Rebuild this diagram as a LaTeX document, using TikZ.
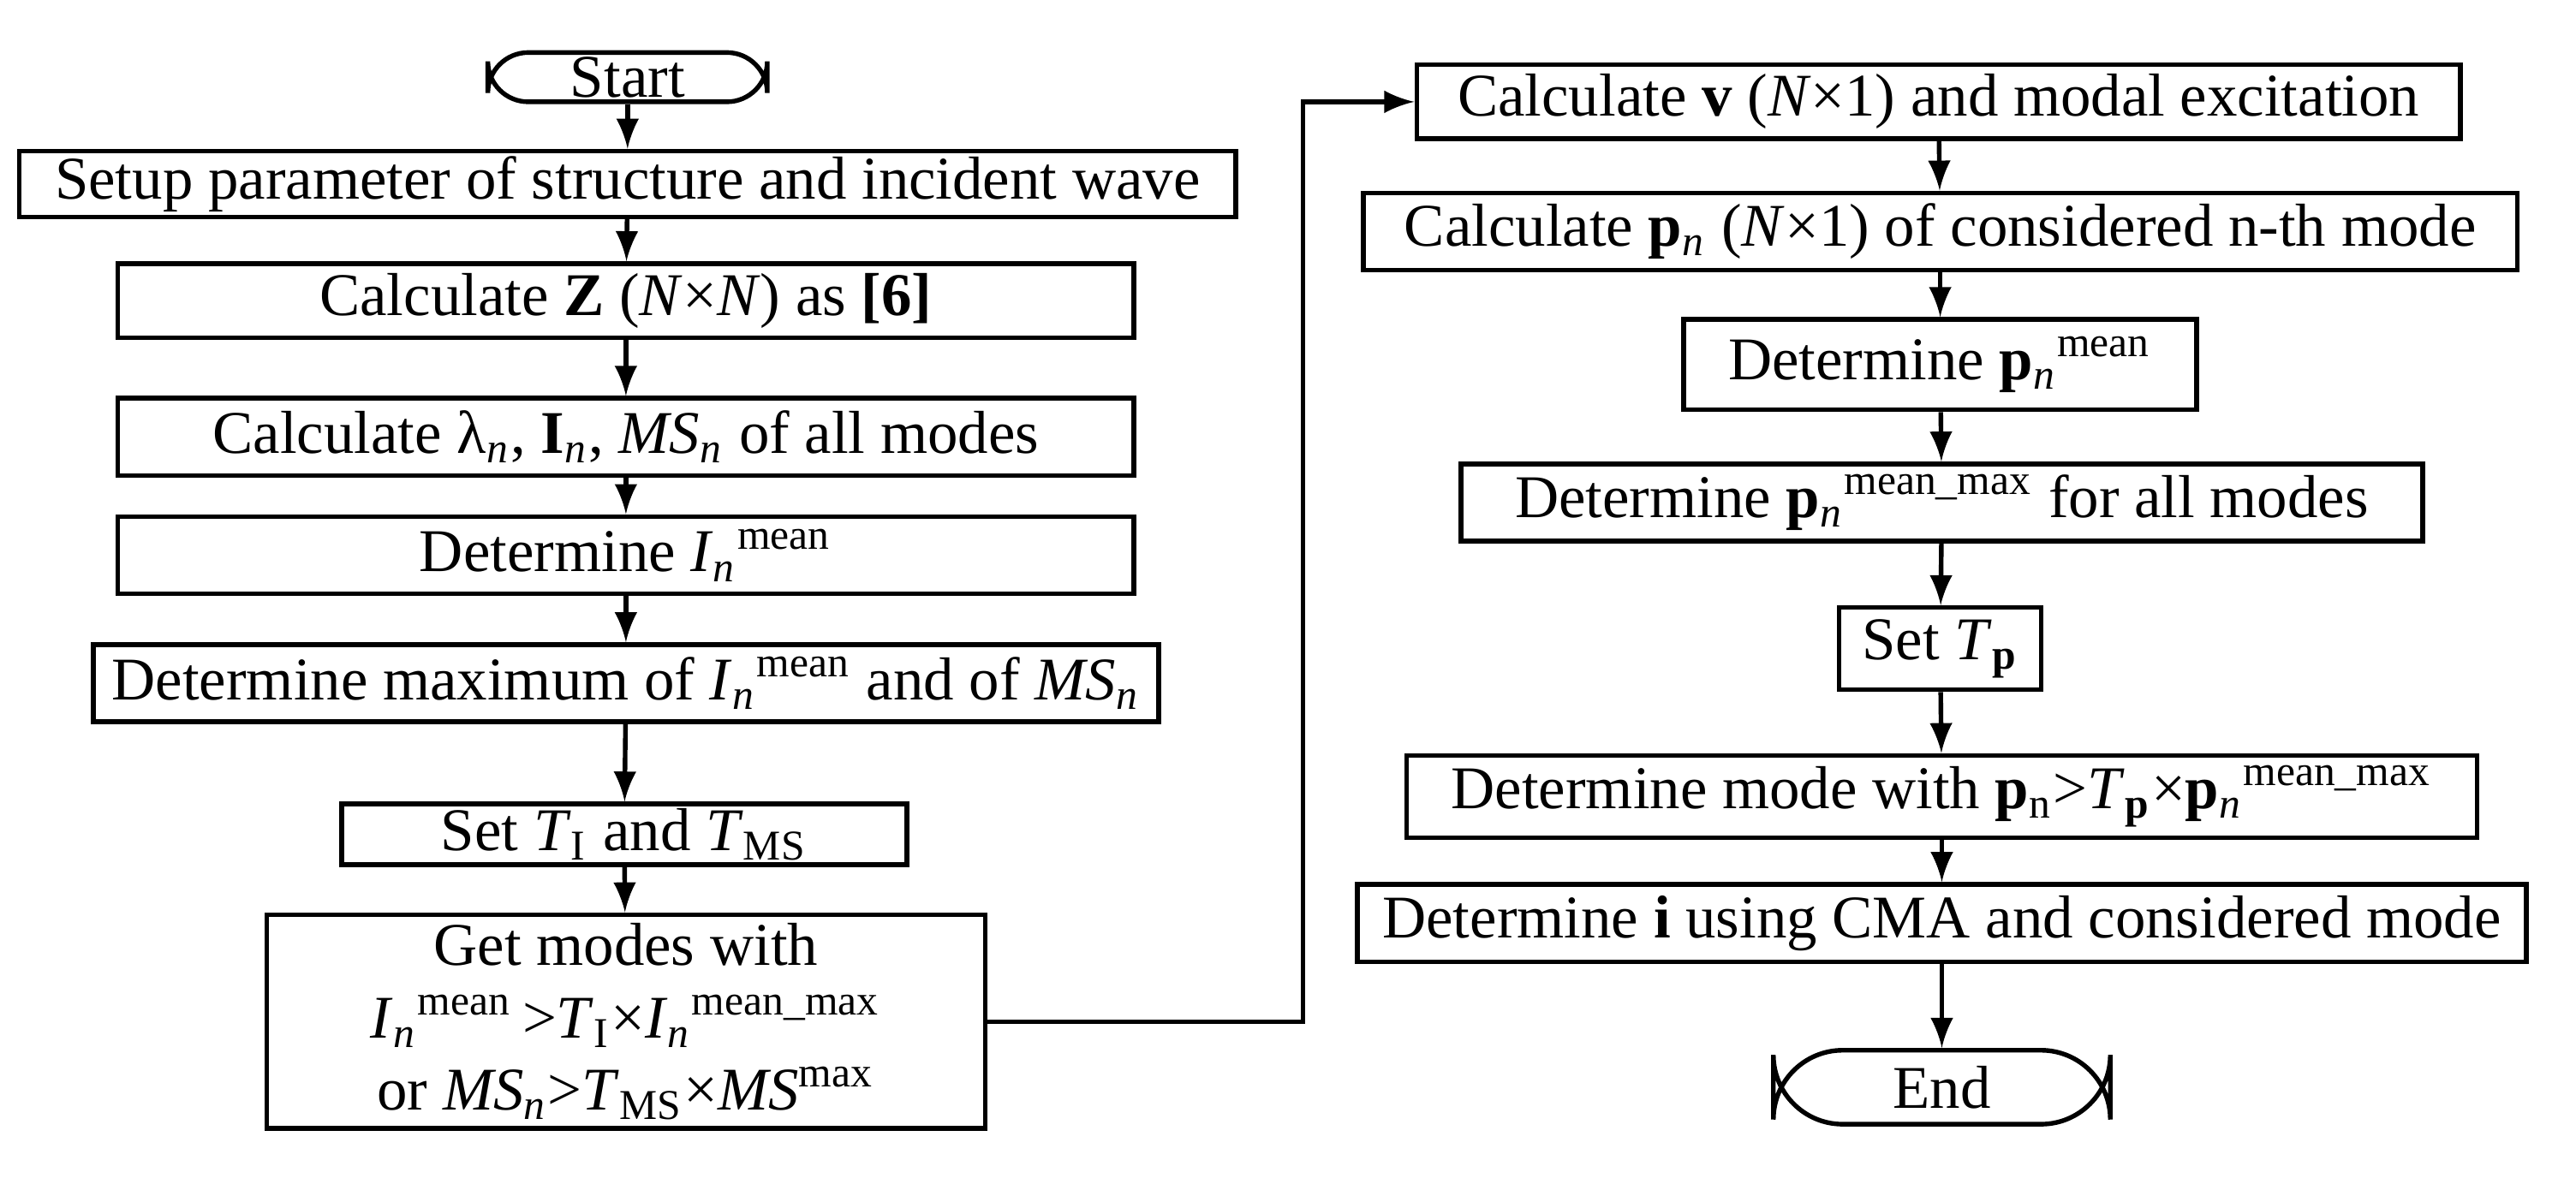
\documentclass[tikz,border=0pt]{standalone}
\usepackage{fontspec}
\setmainfont{Liberation Serif}
\usetikzlibrary{positioning,calc}
\newcommand{\sps}[2]{#1\textsuperscript{#2}}
\newcommand{\pn}{\textbf{p}\textsubscript{\textit{n}}}
\newcommand{\In}{\textit{I}\textsubscript{\textit{n}}}

\begin{document}
\begin{tikzpicture}[x=0.01cm,y=-0.01cm,
				every node/.style={font=\fontsize{10.5}{12.5}\selectfont},
				block/.style={draw,rectangle,line width=0.8pt,inner sep=0pt,align=center},
				term/.style={draw,rounded corners=7pt,line width=0.8pt,inner sep=0pt},
				flow/.style={-latex,line width=0.8pt}]
				\useasboundingbox (0,0) rectangle (1568,728);
				% left column
				\node (START) [term,minimum width=1.70cm,minimum height=0.30cm] at (382,47) {Start};
				\node (SETUP) [block,minimum width=7.40cm,minimum height=0.40cm] at (382,112) {Setup parameter of structure and incident wave};
				\node (CALCZ) [block,minimum width=6.18cm,minimum height=0.45cm] at (381,183) {Calculate \textbf{Z} (\textit{N}×\textit{N}) as \textbf{[6]}};
				\node (CALCL) [block,minimum width=6.18cm,minimum height=0.47cm] at (381,266) {Calculate λ\textsubscript{\textit{n}}, \textbf{I}\textsubscript{\textit{n}}, \textit{MS}\textsubscript{\textit{n}} of all modes};
				\node (DETI)  [block,minimum width=6.18cm,minimum height=0.47cm] at (381,338) {Determine \sps{\In}{mean}};
				\node (DETM)  [block,minimum width=6.48cm,minimum height=0.47cm] at (381,416) {Determine maximum of \sps{\In}{mean} and of \textit{MS}\textsubscript{\textit{n}}};
				\node (SETT)  [block,minimum width=3.44cm,minimum height=0.37cm] at (380,508) {Set \textit{T}\textsubscript{I} and \textit{T}\textsubscript{MS}};
				\node (GET)   [block,minimum width=4.37cm,minimum height=1.30cm] at (381,622) {Get modes with\\\sps{\In}{mean}\,>\textit{T}\textsubscript{I}×\sps{\In}{mean\_max}\\or \textit{MS}\textsubscript{\textit{n}}>\textit{T}\textsubscript{MS}×\sps{\textit{MS}}{max}};
				% right column
				\node (CALCV) [block,minimum width=6.35cm,minimum height=0.45cm] at (1180,62) {Calculate \textbf{v} (\textit{N}×1) and modal excitation};
				\node (CALCP) [block,minimum width=7.02cm,minimum height=0.47cm] at (1181,141) {Calculate \pn{} (\textit{N}×1) of considered n-th mode};
				\node (DETP)  [block,minimum width=3.12cm,minimum height=0.55cm] at (1181,222) {Determine \sps{\pn}{mean}};
				\node (DETPM) [block,minimum width=5.85cm,minimum height=0.47cm] at (1182,306) {Determine \sps{\pn}{mean\_max} for all modes};
				\node (SETP)  [block,minimum width=1.23cm,minimum height=0.50cm] at (1181,395) {Set \textit{T}\textsubscript{\textbf{p}}};
				\node (DETMD) [block,minimum width=6.51cm,minimum height=0.50cm] at (1182,485) {Determine mode with \textbf{p}\textsubscript{n}>\textit{T}\textsubscript{\textbf{p}}×\sps{\pn}{mean\_max}};
				\node (DETIC) [block,minimum width=7.11cm,minimum height=0.47cm] at (1182,562) {Determine \textbf{i} using CMA and considered mode};
				\node (END)   [term,minimum width=2.05cm,minimum height=0.45cm,rounded corners=12pt] at (1182,662) {End};

				\draw[flow] (START) -- (SETUP);
				\draw[flow] (SETUP) -- (CALCZ);
				\draw[flow] (CALCZ) -- (CALCL);
				\draw[flow] (CALCL) -- (DETI);
				\draw[flow] (DETI) -- (DETM);
				\draw[flow] (DETM) -- (SETT);
				\draw[flow] (SETT) -- (GET);
				\draw[flow] (GET.east) -| (793,62) -- (CALCV.west);
				\draw[flow] (CALCV) -- (CALCP);
				\draw[flow] (CALCP) -- (DETP);
				\draw[flow] (DETP) -- (DETPM);
				\draw[flow] (DETPM) -- (SETP);
				\draw[flow] (SETP) -- (DETMD);
				\draw[flow] (DETMD) -- (DETIC);
				\draw[flow] (DETIC) -- (END);
			\end{tikzpicture}
\end{document}
